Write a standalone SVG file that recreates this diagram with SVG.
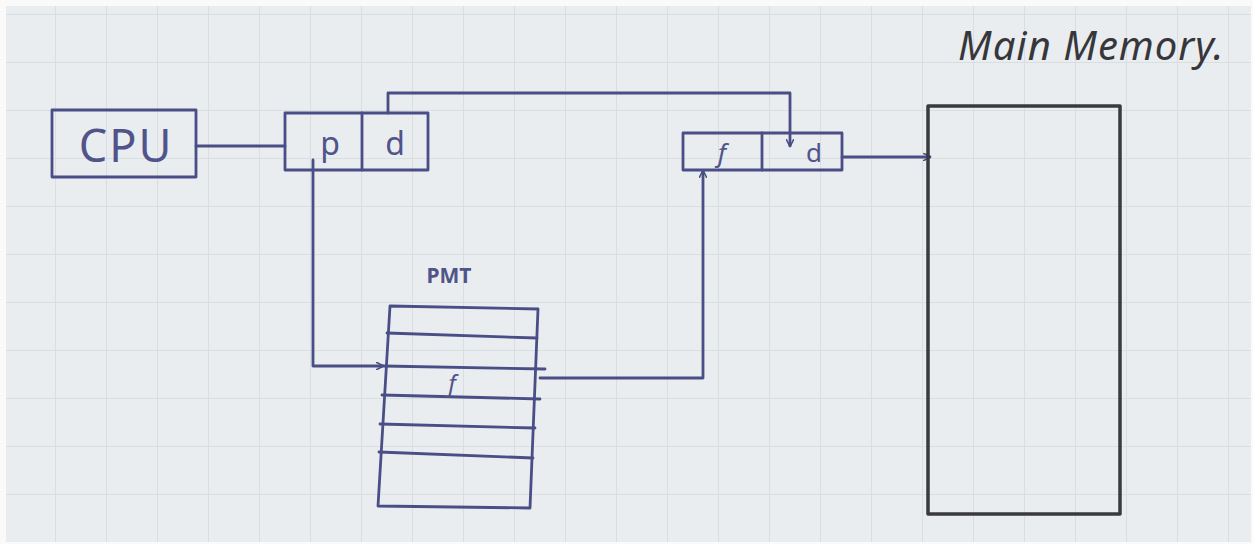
<svg xmlns="http://www.w3.org/2000/svg" width="1253" height="544" viewBox="0 0 1253 544">
<style>
.ink{fill:none;stroke:#4a4e86;stroke-width:2.8;stroke-linecap:round;stroke-linejoin:round}
.dark{fill:none;stroke:#3a3a3e;stroke-width:3.5;stroke-linejoin:round}
.lbl{font-family:"Noto Sans","DejaVu Sans",sans-serif;fill:#50548a}
.tt{font-family:"Noto Sans","DejaVu Sans",sans-serif;fill:#37373b;font-style:italic}
</style>
<defs>
<pattern id="grid" x="4" y="14" width="51" height="48" patternUnits="userSpaceOnUse">
<rect width="51" height="48" fill="#e9edef"/>
<path d="M0 0V48M0 0H51" stroke="#d9dee1" stroke-width="2"/>
</pattern>
<marker id="ah" viewBox="0 0 10 10" refX="9" refY="5" markerWidth="8" markerHeight="8" orient="auto" markerUnits="userSpaceOnUse">
<path d="M0 0L10 5L0 10" fill="none" stroke="#4a4e86" stroke-width="2"/>
</marker>
</defs>
<rect width="1253" height="544" fill="#fafafa"/>
<rect x="6" y="6" width="1245" height="536" fill="url(#grid)"/>

<g id="connectors">
<path class="ink" d="M196 146H285"/>
<path class="ink" d="M388 113V93H790V146" marker-end="url(#ah)"/>
<path class="ink" d="M842 157H930" marker-end="url(#ah)"/>
<path class="ink" d="M313 160V366H383" marker-end="url(#ah)"/>
<path class="ink" d="M540 378H703V171" marker-end="url(#ah)"/>
</g>

<g id="cpu">
<rect class="ink" x="52" y="110" width="144" height="67"/>
<text class="lbl" x="126" y="162" font-size="45" text-anchor="middle" letter-spacing="2">CPU</text>
</g>

<g id="logical-address">
<rect class="ink" x="285" y="113" width="143" height="57"/>
<path class="ink" d="M362 113V170"/>
<text class="lbl" x="330" y="155" font-size="32" text-anchor="middle">p</text>
<text class="lbl" x="395" y="155" font-size="32" text-anchor="middle">d</text>
</g>

<g id="physical-address">
<rect class="ink" x="683" y="133" width="159" height="37"/>
<path class="ink" d="M762 133V170"/>
<text class="lbl" x="722" y="162" font-size="26" text-anchor="middle" font-style="italic">f</text>
<text class="lbl" x="814" y="162" font-size="26" text-anchor="middle">d</text>
</g>

<g id="pmt">
<text class="lbl" x="449" y="283" font-size="21" text-anchor="middle" font-weight="bold">PMT</text>
<path class="ink" d="M390 306L538 309L530 508L378 506Z"/>
<path class="ink" d="M387 333L537 338"/>
<path class="ink" d="M384 366L545 369"/>
<path class="ink" d="M382 395L540 399"/>
<path class="ink" d="M380 424L535 428"/>
<path class="ink" d="M379 452L533 458"/>
<text class="lbl" x="452" y="392" font-size="24" text-anchor="middle" font-style="italic">f</text>
</g>

<g id="main-memory">
<rect class="dark" x="928" y="106" width="192" height="408"/>
<text class="tt" x="958" y="60" font-size="40" letter-spacing="1">Main Memory.</text>
</g>
</svg>
